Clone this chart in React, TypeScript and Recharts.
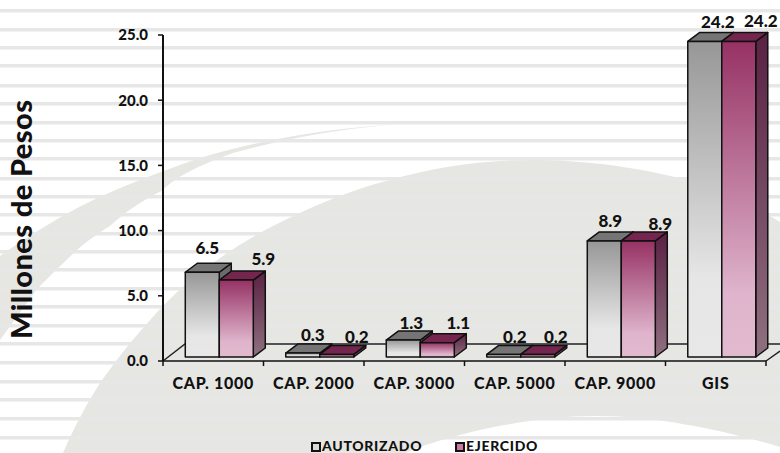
import React from 'react';
import { ComposedChart, Bar, XAxis, YAxis, LabelList, Legend } from 'recharts';

const categories = ['CAP. 1000', 'CAP. 2000', 'CAP. 3000', 'CAP. 5000', 'CAP. 9000', 'GIS'];
const autorizado = [6.5, 0.3, 1.3, 0.2, 8.9, 24.2];
const ejercido = [5.9, 0.2, 1.1, 0.2, 8.9, 24.2];
const yTicks = [0, 5, 10, 15, 20, 25];
const data = categories.map((name, i) => ({ name, autorizado: autorizado[i], ejercido: ejercido[i] }));

const FONT = 'Lato, "Open Sans", sans-serif';
const INK = '#111111';
const BAND = 100.5;
const stripes = [9, 28, 46, 64, 84, 102, 121, 139, 157, 177, 195, 213, 232, 250, 268, 287, 305, 324, 342, 361, 380, 398, 417, 436];
const autNudge = [[5, -9.5], [10, -3], [8, -2], [11, -2], [6, -5], [13, -4]];
const ejeNudge = [[27, -6], [20, -2], [21, -5], [18, -2], [22, -2], [22, -5]];

const Bar3D = (props: any) => {
  const { x, y, width, height, front, top, side } = props;
  const fx = x + 6;
  const fy = y - 4;
  const dx = 12;
  const dy = 9;
  const stroke = { stroke: INK, strokeWidth: 1.5, strokeLinejoin: 'round' as const };
  return (
    <g>
      <polygon points={`${fx + width},${fy} ${fx + width + dx},${fy - dy} ${fx + width + dx},${fy + height - dy} ${fx + width},${fy + height}`} fill={side} {...stroke} />
      <polygon points={`${fx},${fy} ${fx + dx},${fy - dy} ${fx + width + dx},${fy - dy} ${fx + width},${fy}`} fill={top} {...stroke} />
      <rect x={fx} y={fy} width={width} height={height} fill={front} {...stroke} />
    </g>
  );
};

const makeLabel = (nudge: number[][]) => (props: any) => {
  const { x, y, width, value, index } = props;
  const [nx, ny] = nudge[index];
  return (
    <text x={x + width / 2 + 6 + nx} y={y - 4 - 9 + ny} textAnchor="middle" fontFamily={FONT} fontWeight={900} fontSize={17} fill={INK}>
      {Number(value).toFixed(1)}
    </text>
  );
};

const CategoryTick = (props: any) => {
  const { x, y, payload, index } = props;
  return (
    <g>
      <line x1={x - BAND / 2} x2={x - BAND / 2} y1={361} y2={366} stroke={INK} strokeWidth={1.5} />
      {index === categories.length - 1 && <line x1={x + BAND / 2} x2={x + BAND / 2} y1={361} y2={366} stroke={INK} strokeWidth={1.5} />}
      <text x={x} y={y + 20} textAnchor="middle" fontFamily={FONT} fontWeight={900} fontSize={16} letterSpacing={0.7} fill={INK}>{payload.value}</text>
    </g>
  );
};

const Swatch = ({ fill }: { fill: string }) => (
  <svg width={10} height={10} style={{ display: 'block' }}>
    <rect x={1} y={1} width={8} height={8} fill={fill} stroke={INK} strokeWidth={2} />
  </svg>
);

const LegendContent = () => (
  <div style={{ position: 'relative', width: 780, height: 16, fontFamily: FONT, fontWeight: 900, fontSize: 14, letterSpacing: 0.7, color: INK, lineHeight: '14px' }}>
    <div style={{ position: 'absolute', left: 311, top: 5 }}><Swatch fill="#d8d8d8" /></div>
    <div style={{ position: 'absolute', left: 322, top: 2 }}>AUTORIZADO</div>
    <div style={{ position: 'absolute', left: 455, top: 5 }}><Swatch fill="#c87aa4" /></div>
    <div style={{ position: 'absolute', left: 466, top: 2 }}>EJERCIDO</div>
  </div>
);

export default function App() {
  return (
    <div style={{ position: 'absolute', left: 0, top: 0, width: 780, height: 453, overflow: 'hidden', background: '#ffffff' }}>
      <svg width={780} height={453} style={{ position: 'absolute', left: 0, top: 0 }}>
        <path d="M0,256 C30,235 70,210 100,197 C130,183 165,170 200,158 C260,140 330,128 390,125 C330,130 280,140 233,153 C200,165 175,177 163,190 C140,202 125,212 110,226 C95,235 85,243 78,249 L57,269 L37,289 L0,340 Z" fill="#e6e6e2" />
        <path d="M63,453 C75,425 88,402 100,383 C115,362 128,345 143,328 C150,320 156,313 163,306 C190,278 230,248 273,226 C310,207 350,190 390,180 C430,168 480,160 530,160 C590,160 640,168 687,180 C720,190 750,203 780,222 L780,453 Z" fill="#e6e6e2" />
        <path d="M405,453 C440,438 520,416 597,416 C660,416 730,432 780,447 L780,453 Z" fill="#ffffff" />
        {stripes.map((s) => <rect key={s} x={0} y={s} width={780} height={3.5} fill="#e7e7e7" />)}
        <path d="M163,361 L185,344 L780,344 M766,361 L780,351" fill="none" stroke="#222222" strokeWidth={1.5} />
      </svg>
      <div style={{ position: 'absolute', left: 0, top: 0 }}>
        <ComposedChart width={780} height={453} data={data} margin={{ top: 35, right: 14, bottom: 0, left: 0 }} barCategoryGap="16.2%" barGap={0}>
          <defs>
            <linearGradient id="grayFront" x1="0" y1="0" x2="0" y2="1">
              <stop offset="0" stopColor="#979797" />
              <stop offset="0.75" stopColor="#e6e6e6" />
              <stop offset="1" stopColor="#e8e8e8" />
            </linearGradient>
            <linearGradient id="magFront" x1="0" y1="0" x2="0" y2="1">
              <stop offset="0" stopColor="#963264" />
              <stop offset="0.8" stopColor="#dfb4cc" />
              <stop offset="1" stopColor="#e2bacf" />
            </linearGradient>
            <linearGradient id="graySide" x1="0" y1="0" x2="0" y2="1">
              <stop offset="0" stopColor="#666666" />
              <stop offset="1" stopColor="#999999" />
            </linearGradient>
            <linearGradient id="magSide" x1="0" y1="0" x2="0" y2="1">
              <stop offset="0" stopColor="#5a2143" />
              <stop offset="1" stopColor="#8f7080" />
            </linearGradient>
          </defs>
          <XAxis dataKey="name" height={76} tick={<CategoryTick />} tickLine={false} axisLine={{ stroke: INK, strokeWidth: 1.5 }} interval={0} />
          <YAxis
            width={163}
            domain={[0, 25]}
            ticks={yTicks}
            tickFormatter={(v: number) => v.toFixed(1)}
            tick={{ fontFamily: FONT, fontWeight: 900, fontSize: 15, fill: INK }}
            tickSize={5}
            tickMargin={10}
            tickLine={{ stroke: INK, strokeWidth: 1.5 }}
            axisLine={{ stroke: INK, strokeWidth: 2 }}
            label={{ value: 'Millones de Pesos', angle: -90, position: 'insideLeft', dx: 17, dy: 141, style: { fontFamily: FONT, fontWeight: 900, fontSize: 29, letterSpacing: 0.4, fill: INK } }}
          />
          <Legend height={16} verticalAlign="bottom" content={<LegendContent />} wrapperStyle={{ left: 0, bottom: 0, width: 780 }} />
          <Bar dataKey="autorizado" name="AUTORIZADO" isAnimationActive={false} shape={(p: any) => <Bar3D {...p} front="url(#grayFront)" top="#757575" side="url(#graySide)" />}>
            <LabelList dataKey="autorizado" content={makeLabel(autNudge)} />
          </Bar>
          <Bar dataKey="ejercido" name="EJERCIDO" isAnimationActive={false} shape={(p: any) => <Bar3D {...p} front="url(#magFront)" top="#74264f" side="url(#magSide)" />}>
            <LabelList dataKey="ejercido" content={makeLabel(ejeNudge)} />
          </Bar>
        </ComposedChart>
      </div>
    </div>
  );
}
